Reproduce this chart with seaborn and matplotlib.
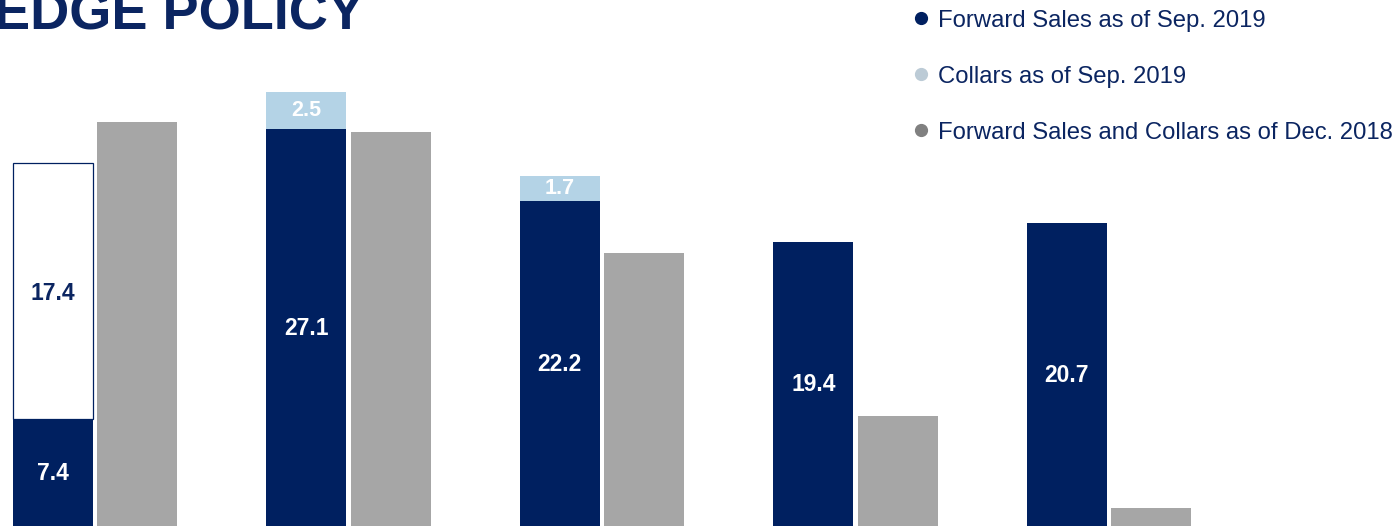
import numpy as np
import pandas as pd
import matplotlib
matplotlib.use("Agg")
import matplotlib.pyplot as plt
import seaborn as sns
from matplotlib.lines import Line2D

# ---------------- data ----------------
groups = ["P1", "P2", "P3", "P4", "P5"]          # category labels are cropped in the reference
forward_sep19 = [7.4, 27.1, 22.2, 19.4, 20.7]     # Forward Sales as of Sep. 2019
collars_sep19 = [0.0, 2.5, 1.7, 0.0, 0.0]         # Collars as of Sep. 2019
open_segment = [17.4, 0.0, 0.0, 0.0, 0.0]         # white outlined segment
total_dec18 = [27.6, 26.9, 18.65, 7.6, 1.35]      # Forward Sales and Collars as of Dec. 2018
legend_labels = ["Forward Sales as of Sep. 2019",
                 "Collars as of Sep. 2019",
                 "Forward Sales and Collars as of Dec. 2018"]
title = "EDGE POLICY"

# ---------------- style ----------------
NAVY = "#002060"
TEXT_NAVY = "#0b2561"
GRAY = "#a6a6a6"
LIGHT = "#b4d3e6"
LEG_LIGHT = "#bccbd6"
LEG_GRAY = "#808080"

sns.set_theme(style="white")
plt.rcParams["font.family"] = ["Liberation Sans", "DejaVu Sans"]

fig = plt.figure(figsize=(13.98, 5.26), dpi=100)
ax = fig.add_axes([0, 0, 1, 1])

df = pd.DataFrame({
    "group": groups * 2,
    "series": [legend_labels[0]] * len(groups) + [legend_labels[2]] * len(groups),
    "value": forward_sep19 + total_dec18,
})

sns.barplot(data=df, x="group", y="value", hue="series",
            hue_order=[legend_labels[0], legend_labels[2]],
            palette=[NAVY, GRAY], saturation=1, width=0.665, gap=0.054,
            errorbar=None, legend=False, linewidth=0, ax=ax)

navy_patches = ax.patches[:len(groups)]
xs = [p.get_x() + p.get_width() / 2 for p in navy_patches]
w = navy_patches[0].get_width()

# stacked segments on top of the forward-sales bars
ax.bar(xs, collars_sep19, bottom=forward_sep19, width=w, color=LIGHT, linewidth=0)
for x, b, h in zip(xs, forward_sep19, open_segment):
    if h > 0:
        ax.bar([x], [h], bottom=[b], width=w, color="white",
               edgecolor=NAVY, linewidth=0.9)

# value labels
for x, f in zip(xs, forward_sep19):
    ax.text(x, f / 2, f"{f:.1f}", ha="center", va="center",
            color="white", fontsize=16.5, fontweight="bold")
for x, f, c in zip(xs, forward_sep19, collars_sep19):
    if c > 0:
        ax.text(x, f + c / 2, f"{c:.1f}", ha="center", va="center",
                color="white", fontsize=15.5, fontweight="bold")
for x, f, o in zip(xs, forward_sep19, open_segment):
    if o > 0:
        ax.text(x, f + o / 2 - 0.2, f"{o:.1f}", ha="center", va="center",
                color=TEXT_NAVY, fontsize=16.5, fontweight="bold")

# axes limits to match reference framing
px_per_cat = 253.5
px_per_unit = 14.7
ax.set_xlim(-95 / px_per_cat, -95 / px_per_cat + 1398 / px_per_cat)
ax.set_ylim(1.5 / px_per_unit, 1.5 / px_per_unit + 526 / px_per_unit)
ax.set_axis_off()

# legend
handles = [Line2D([0], [0], marker="o", linestyle="none", markersize=8.5,
                  markerfacecolor=c, markeredgecolor=c)
           for c in (NAVY, LEG_LIGHT, LEG_GRAY)]
leg = ax.legend(handles, legend_labels, loc="upper left",
                bbox_to_anchor=(914 / 1398, 1 - 9.5 / 526), bbox_transform=fig.transFigure,
                frameon=False, fontsize=17.2, handlelength=0.58, handletextpad=0.43,
                labelspacing=1.43, borderpad=0, borderaxespad=0)
for t in leg.get_texts():
    t.set_color(TEXT_NAVY)

# title (cropped at the top in the reference)
fig.text(-6 / 1398, 1 - 29 / 526, title, ha="left", va="baseline",
         fontsize=39, fontweight="bold", color=TEXT_NAVY)

fig.savefig("out.png", dpi=100, facecolor="white")
